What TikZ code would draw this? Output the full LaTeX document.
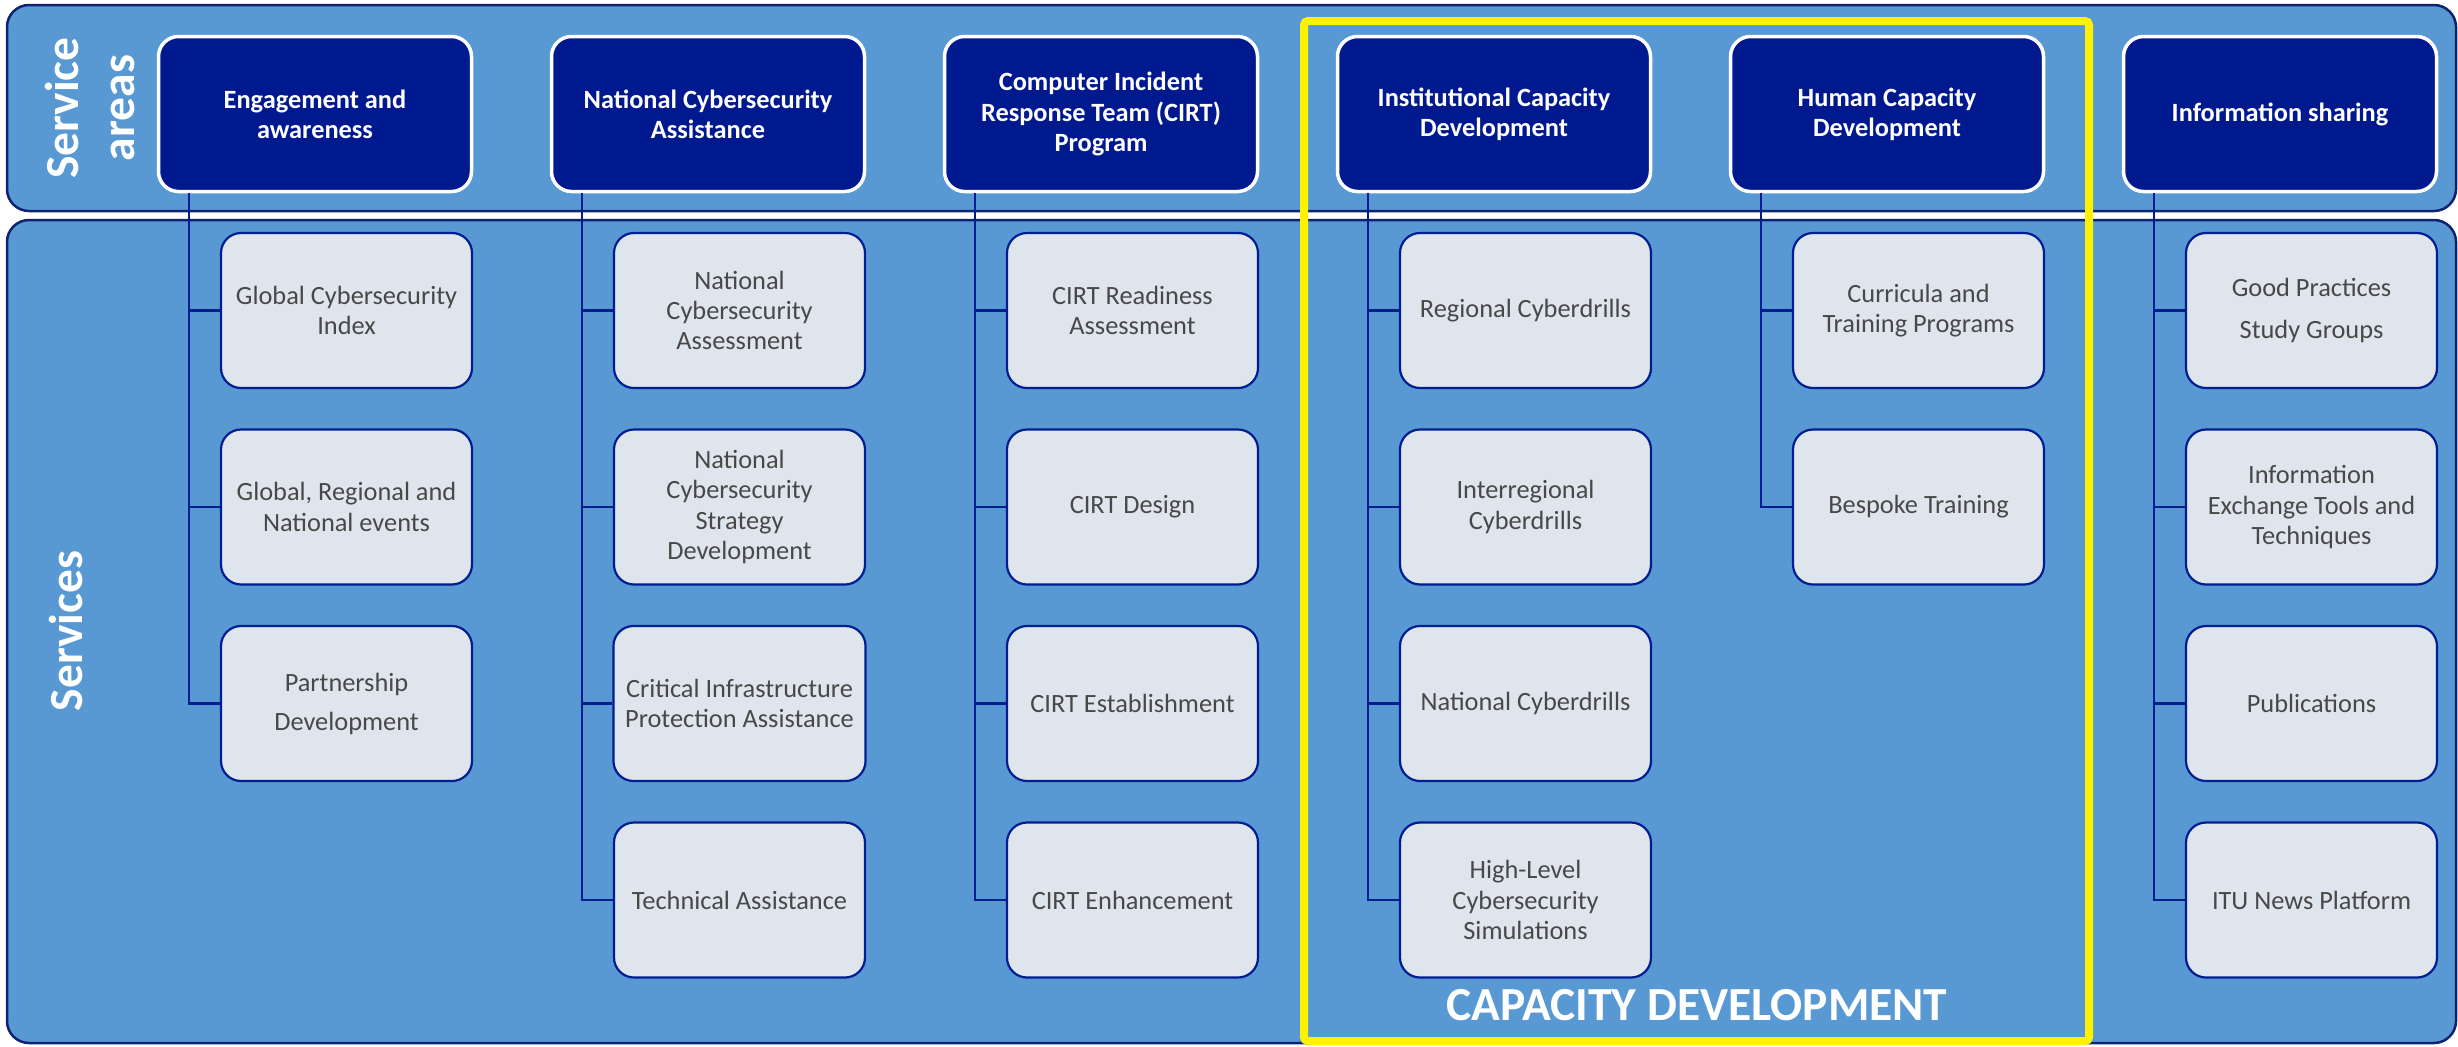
\documentclass[tikz,border=0pt]{standalone}
\usepackage{fontspec}
\setmainfont{Carlito}
\usepackage{tikz}

\definecolor{bandblue}{RGB}{88,153,212}
\definecolor{bandline}{RGB}{14,34,112}
\definecolor{areanavy}{RGB}{0,25,143}
\definecolor{servfill}{RGB}{222,229,236}
\definecolor{servline}{RGB}{0,30,145}
\definecolor{servtext}{RGB}{72,72,72}

\begin{document}
\begin{tikzpicture}[x=0.1mm, y=-0.1mm,
    band/.style = {draw=bandline, line width=0.25mm, fill=bandblue, rounded corners=2.2mm},
    area/.style = {draw=white, line width=0.35mm, fill=areanavy, rounded corners=2mm, minimum width=31.3mm, minimum height=15.5mm, align=center, text=white, font=\fontsize{7.5}{8.6}\selectfont\bfseries},
    serv/.style = {draw=servline, line width=0.22mm, fill=servfill, rounded corners=2mm, minimum width=25.1mm, minimum height=15.5mm, align=center, text=servtext, font=\fontsize{7.5}{8.6}\selectfont},
    side/.style = {rotate=90, align=center, text=white, font=\fontsize{13.5}{16}\selectfont\bfseries},
    link/.style = {draw=servline, line width=0.22mm},
    node distance={19.65mm}]

    \useasboundingbox (0,0) rectangle (2458,1046);

    % the two bands
    \draw[band] (7,5) rectangle (2456,211);
    \draw[band] (7,220) rectangle (2456,1043);
    \node[side] (areas) at (90,108) {Service\\areas};
    \node[side] (servs) at (66,631) {Services};

    % service areas
    \node[area] (h1) at (315,114) {Engagement and\\awareness};
    \node[area] (h2) [right of=h1, node distance=39.3mm] {National Cybersecurity\\Assistance};
    \node[area] (h3) [right of=h2, node distance=39.3mm] {Computer Incident\\Response Team (CIRT)\\Program};
    \node[area] (h4) [right of=h3, node distance=39.3mm] {Institutional Capacity\\Development};
    \node[area] (h5) [right of=h4, node distance=39.3mm] {Human Capacity\\Development};
    \node[area] (h6) [right of=h5, node distance=39.3mm] {Information sharing};

    % services
    \node[serv] (c11) [below of=h1, xshift=3.15mm] {Global Cybersecurity\\Index};
    \node[serv] (c12) [below of=c11] {Global, Regional and\\National events};
    \node[serv] (c13) [below of=c12] {Partnership\\[2.5pt]Development};

    \node[serv] (c21) [below of=h2, xshift=3.15mm] {National\\Cybersecurity\\Assessment};
    \node[serv] (c22) [below of=c21] {National\\Cybersecurity\\Strategy\\Development};
    \node[serv] (c23) [below of=c22] {Critical Infrastructure\\Protection Assistance};
    \node[serv] (c24) [below of=c23] {Technical Assistance};

    \node[serv] (c31) [below of=h3, xshift=3.15mm] {CIRT Readiness\\Assessment};
    \node[serv] (c32) [below of=c31] {CIRT Design};
    \node[serv] (c33) [below of=c32] {CIRT Establishment};
    \node[serv] (c34) [below of=c33] {CIRT Enhancement};

    \node[serv] (c41) [below of=h4, xshift=3.15mm] {Regional Cyberdrills};
    \node[serv] (c42) [below of=c41] {Interregional\\Cyberdrills};
    \node[serv] (c43) [below of=c42] {National Cyberdrills};
    \node[serv] (c44) [below of=c43] {High-Level\\Cybersecurity\\Simulations};

    \node[serv] (c51) [below of=h5, xshift=3.15mm] {Curricula and\\Training Programs};
    \node[serv] (c52) [below of=c51] {Bespoke Training};

    \node[serv] (c61) [below of=h6, xshift=3.15mm] {Good Practices\\[3.4pt]Study Groups};
    \node[serv] (c62) [below of=c61] {Information\\Exchange Tools and\\Techniques};
    \node[serv] (c63) [below of=c62] {Publications};
    \node[serv] (c64) [below of=c63] {ITU News Platform};

    % tree lines
    \draw[link] ([xshift=3.2mm]h1.south west) |- (c11.west);
    \draw[link] ([xshift=3.2mm]h1.south west) |- (c12.west);
    \draw[link] ([xshift=3.2mm]h1.south west) |- (c13.west);
    \draw[link] ([xshift=3.2mm]h2.south west) |- (c21.west);
    \draw[link] ([xshift=3.2mm]h2.south west) |- (c22.west);
    \draw[link] ([xshift=3.2mm]h2.south west) |- (c23.west);
    \draw[link] ([xshift=3.2mm]h2.south west) |- (c24.west);
    \draw[link] ([xshift=3.2mm]h3.south west) |- (c31.west);
    \draw[link] ([xshift=3.2mm]h3.south west) |- (c32.west);
    \draw[link] ([xshift=3.2mm]h3.south west) |- (c33.west);
    \draw[link] ([xshift=3.2mm]h3.south west) |- (c34.west);
    \draw[link] ([xshift=3.2mm]h4.south west) |- (c41.west);
    \draw[link] ([xshift=3.2mm]h4.south west) |- (c42.west);
    \draw[link] ([xshift=3.2mm]h4.south west) |- (c43.west);
    \draw[link] ([xshift=3.2mm]h4.south west) |- (c44.west);
    \draw[link] ([xshift=3.2mm]h5.south west) |- (c51.west);
    \draw[link] ([xshift=3.2mm]h5.south west) |- (c52.west);
    \draw[link] ([xshift=3.2mm]h6.south west) |- (c61.west);
    \draw[link] ([xshift=3.2mm]h6.south west) |- (c62.west);
    \draw[link] ([xshift=3.2mm]h6.south west) |- (c63.west);
    \draw[link] ([xshift=3.2mm]h6.south west) |- (c64.west);

    % capacity development frame
    \draw[yellow, line width=0.8mm, rounded corners=0.4mm] (1304,21) rectangle (2089,1041);
    \node[text=white, font=\fontsize{13.5}{16}\selectfont\bfseries] (cap) at (1697,1005) {CAPACITY DEVELOPMENT};
\end{tikzpicture}
\end{document}
